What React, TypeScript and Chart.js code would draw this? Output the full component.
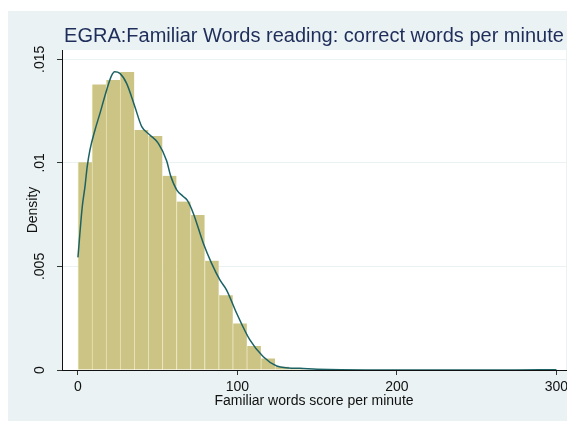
import React, { useEffect, useRef } from "react";
import { Chart, registerables } from "chart.js";

Chart.register(...registerables);

// ---- Data ----
const chartTitle = "EGRA:Familiar Words reading: correct words per minute";
const xAxisTitle = "Familiar words score per minute";
const yAxisTitle = "Density";

const binCount = 34;
const binMin = 0;
const binMax = 300;

// histogram densities per bin (34 bins over 0..300)
const binDensity = [
  0.01003, 0.01379, 0.014, 0.01439, 0.01159, 0.0113, 0.00938, 0.00813,
  0.00748, 0.00528, 0.00361, 0.00225, 0.00116, 0.00056, 0.00016, 0.00007,
  0.00003, 0.00001, 0, 0, 0, 0, 0, 0,
  0, 0, 0, 0, 0, 0, 0, 0,
  0, 0.00004,
];

// kernel density estimate
const kdeX = [
  0, 2.7, 4.4, 5.8, 7.5, 10.7, 13.8, 18, 21, 23, 26.3, 30.5, 35.7, 40, 45.1,
  50.4, 55.6, 58, 61.9, 66, 68.5, 72.3, 78.6, 83.8, 89, 93.2, 99.5, 107.8,
  116.2, 124.6, 132, 139.2, 150, 165, 180, 220, 260, 290, 300,
];
const kdeY = [
  0.00544, 0.00788, 0.00885, 0.00982, 0.01062, 0.01159, 0.01239, 0.01352,
  0.0142, 0.0144, 0.01432, 0.01384, 0.01271, 0.01175, 0.01135, 0.01094,
  0.0101, 0.0094, 0.0087, 0.00838, 0.0082, 0.00757, 0.00612, 0.00515,
  0.00435, 0.00386, 0.00274, 0.00145, 0.00064, 0.00019, 0.0001, 0.00008,
  0.00004, 0.00001, 0, 0, 0, 0.00001, 0.00001,
];

const xTickValues = [0, 100, 200, 300];
const yTickValues = [0, 0.005, 0.01, 0.015];
const yTickLabels = ["0", ".005", ".01", ".015"];

// ---- Styles ----
const BG = "rgb(234,242,243)";
const BAR_FILL = "rgb(204,196,132)";
const BAR_EDGE = "rgb(233,228,184)";
const LINE_COLOR = "rgb(28,98,100)";
const TITLE_COLOR = "rgb(30,45,90)";
const TEXT_COLOR = "#111";
const FONT = "'Liberation Sans', Arial, Helvetica, sans-serif";

const bgPlugin = {
  id: "stataBg",
  beforeDraw(chart: any) {
    const { ctx, chartArea, width, height } = chart;
    ctx.save();
    ctx.fillStyle = BG;
    ctx.fillRect(0, 0, width, height);
    ctx.fillStyle = "#fff";
    ctx.fillRect(
      chartArea.left,
      chartArea.top,
      chartArea.right - chartArea.left,
      chartArea.bottom - chartArea.top
    );
    ctx.restore();
  },
};

export default function App() {
  const ref = useRef<HTMLCanvasElement | null>(null);

  useEffect(() => {
    if (!ref.current) return;
    Chart.defaults.font.family = FONT;
    const binWidth = (binMax - binMin) / binCount;

    const chart = new Chart(ref.current, {
      type: "bar",
      data: {
        datasets: [
          {
            type: "line",
            data: kdeX.map((x, i) => ({ x, y: kdeY[i] })),
            borderColor: LINE_COLOR,
            borderWidth: 1.5,
            pointRadius: 0,
            fill: false,
            cubicInterpolationMode: "monotone",
            order: 0,
          } as any,
          {
            type: "bar",
            data: binDensity.map((d, i) => ({
              x: binMin + (i + 0.5) * binWidth,
              y: d,
            })),
            backgroundColor: BAR_FILL,
            borderColor: BAR_EDGE,
            borderWidth: { top: 0, left: 1, right: 0, bottom: 0 },
            borderSkipped: false,
            barPercentage: 1,
            categoryPercentage: 1,
            order: 1,
          } as any,
        ],
      },
      options: {
        animation: false,
        responsive: false,
        maintainAspectRatio: false,
        events: [],
        layout: { padding: { right: 1, left: 0, top: 0, bottom: 0 } },
        plugins: {
          legend: { display: false },
          tooltip: { enabled: false },
          title: {
            display: true,
            text: chartTitle,
            fullSize: false,
            color: TITLE_COLOR,
            font: { size: 20, weight: "normal" as any, family: FONT },
            padding: { top: 13, bottom: 2 },
          },
        },
        scales: {
          x: {
            type: "linear",
            min: -10,
            max: 306,
            offset: false,
            afterBuildTicks: (s: any) => {
              s.ticks = xTickValues.map((v) => ({ value: v }));
            },
            afterFit: (s: any) => {
              s.height = 51;
              s.paddingLeft = 0;
              s.paddingRight = 0;
            },
            grid: {
              offset: false,
              drawOnChartArea: false,
              drawTicks: true,
              tickLength: 5,
              tickColor: "#333",
              tickWidth: 1,
            },
            border: { color: "#111", width: 1 },
            ticks: {
              color: TEXT_COLOR,
              font: { size: 14 },
              padding: 4,
              maxRotation: 0,
              autoSkip: false,
              callback: (v: any) => String(v),
            },
            title: {
              display: true,
              text: xAxisTitle,
              color: TEXT_COLOR,
              font: { size: 14 },
              padding: { top: 0, bottom: 11 },
            },
          } as any,
          y: {
            type: "linear",
            min: 0,
            max: 0.01545,
            afterBuildTicks: (s: any) => {
              s.ticks = yTickValues.map((v) => ({ value: v }));
            },
            afterFit: (s: any) => {
              s.width = 54;
              s.paddingTop = 0;
              s.paddingBottom = 0;
            },
            grid: {
              color: BG,
              lineWidth: 1,
              drawTicks: true,
              tickLength: 5,
              tickColor: "#333",
              tickWidth: 1,
            },
            border: { color: "#111", width: 1 },
            ticks: {
              color: TEXT_COLOR,
              font: { size: 14 },
              minRotation: 90,
              maxRotation: 90,
              crossAlign: "center",
              padding: 3.4,
              autoSkip: false,
              callback: (v: any) => {
                const idx = yTickValues.indexOf(v);
                return idx >= 0 ? yTickLabels[idx] : "";
              },
            },
            title: {
              display: true,
              text: yAxisTitle,
              color: TEXT_COLOR,
              font: { size: 14 },
              padding: { top: 16.7, bottom: 0 },
            },
          } as any,
        },
      },
      plugins: [bgPlugin],
    });

    return () => chart.destroy();
  }, []);

  return (
    <div style={{ position: "fixed", left: 8, top: 11, width: 559, height: 410 }}>
      <canvas
        ref={ref}
        width={559}
        height={410}
        style={{ display: "block", width: 559, height: 410 }}
      />
    </div>
  );
}
